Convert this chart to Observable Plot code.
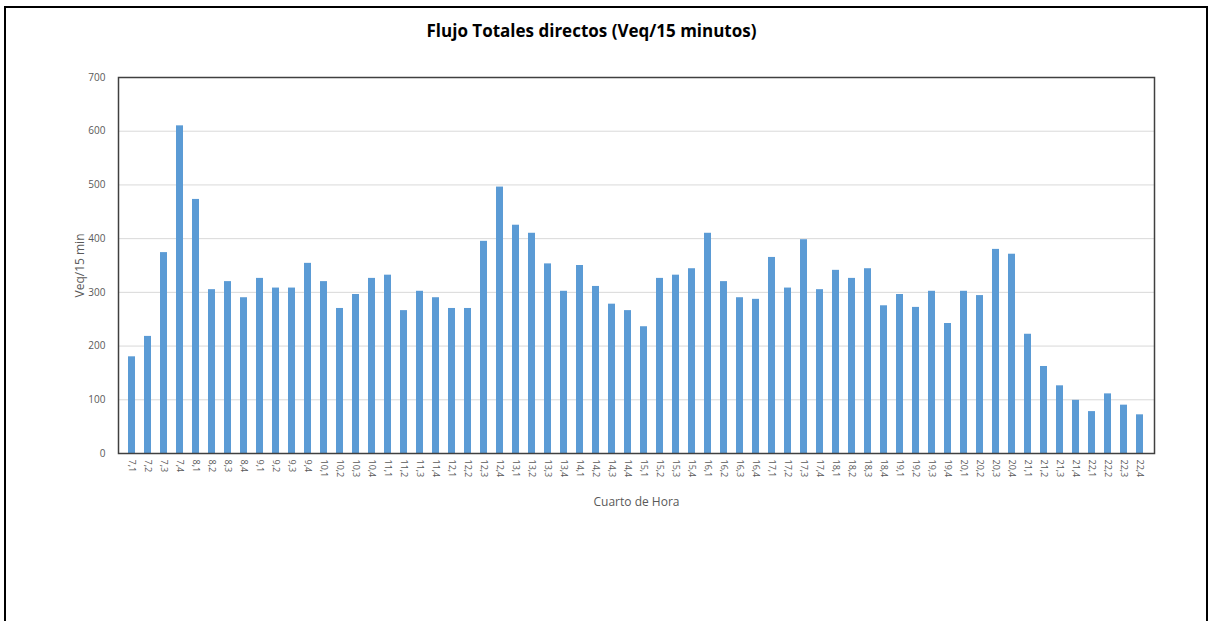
<!DOCTYPE html>
<html>
<head>
<meta charset="utf-8">
<script src="https://cdn.jsdelivr.net/npm/d3@7"></script>
<script src="https://cdn.jsdelivr.net/npm/@observablehq/plot@0.6"></script>
<style>
  html, body { margin: 0; padding: 0; background: #fff; }
  #wrap { position: relative; width: 1213px; height: 621px; overflow: hidden; }
  #frame { position: absolute; left: 4px; top: 6px; width: 1200px; height: 700px;
           border-top: 2px solid #000; border-left: 2px solid #000; border-right: 2px solid #000; }
  #title { position: absolute; left: 0; width: 1183px; top: 19px; text-align: center;
           font-family: "Liberation Sans Narrow", "Open Sans", sans-serif; font-weight: bold;
           font-size: 17px; color: #000; }
  #chart { position: absolute; left: 0; top: 0; }
</style>
</head>
<body>
<div id="wrap">
  <div id="frame"></div>
  <div id="chart"></div>
  <div id="title">Flujo Totales directos (Veq/15 minutos)</div>
</div>
<script>
const categories = [
  "7,1","7,2","7,3","7,4","8,1","8,2","8,3","8,4","9,1","9,2","9,3","9,4",
  "10,1","10,2","10,3","10,4","11,1","11,2","11,3","11,4","12,1","12,2","12,3","12,4",
  "13,1","13,2","13,3","13,4","14,1","14,2","14,3","14,4","15,1","15,2","15,3","15,4",
  "16,1","16,2","16,3","16,4","17,1","17,2","17,3","17,4","18,1","18,2","18,3","18,4",
  "19,1","19,2","19,3","19,4","20,1","20,2","20,3","20,4","21,1","21,2","21,3","21,4",
  "22,1","22,2","22,3","22,4"
];
const values = [
  180, 218, 374, 610, 473, 305, 320, 290, 326, 308, 308, 354,
  320, 270, 296, 326, 332, 266, 302, 290, 270, 270, 395, 496,
  425, 410, 353, 302, 350, 311, 278, 266, 236, 326, 332, 344,
  410, 320, 290, 287, 365, 308, 398, 305, 341, 326, 344, 275,
  296, 272, 302, 242, 302, 294, 380, 371, 222, 162, 126, 99,
  78, 111, 90, 72
];
const yTicks = [0, 100, 200, 300, 400, 500, 600, 700];
const gridTicks = [100, 200, 300, 400, 500, 600];

const data = categories.map((c, i) => ({cat: c, v: values[i]}));

const chart = Plot.plot({
  width: 1213,
  height: 621,
  marginTop: 77,
  marginBottom: 168,
  marginLeft: 118,
  marginRight: 59,
  style: {fontFamily: "'Open Sans', sans-serif", color: "#595959", background: "transparent"},
  x: {domain: categories, paddingInner: 0.56, paddingOuter: 0.28, label: null},
  y: {domain: [0, 700], label: null},
  marks: [
    Plot.ruleY(gridTicks, {stroke: "#d9d9d9", strokeWidth: 1}),
    Plot.barY(data, {x: "cat", y: "v", fill: "#5b9bd5"}),
    Plot.axisY(yTicks, {tickSize: 0, tickPadding: 13, fontSize: 10, fill: "#595959", label: null}),
    Plot.axisY([], {tickSize: 0, fontSize: 12, fill: "#595959",
      label: "Veq/15 min", labelAnchor: "center", labelOffset: 43, labelArrow: "none"}),
    Plot.axisX({tickSize: 0, tickPadding: 6, tickRotate: 90, fontSize: 9, fill: "#595959", label: null}),
    Plot.axisX([], {tickSize: 0, fontSize: 12, fill: "#595959",
      label: "Cuarto de Hora", labelAnchor: "center", labelOffset: 52, labelArrow: "none"}),
    Plot.frame({stroke: "#404040", strokeWidth: 1.5}),
    Plot.ruleX([0], {x: () => 0, stroke: "#000", strokeWidth: 2, frameAnchor: "left"})
  ]
});
document.getElementById("chart").appendChild(chart);
</script>
</body>
</html>
